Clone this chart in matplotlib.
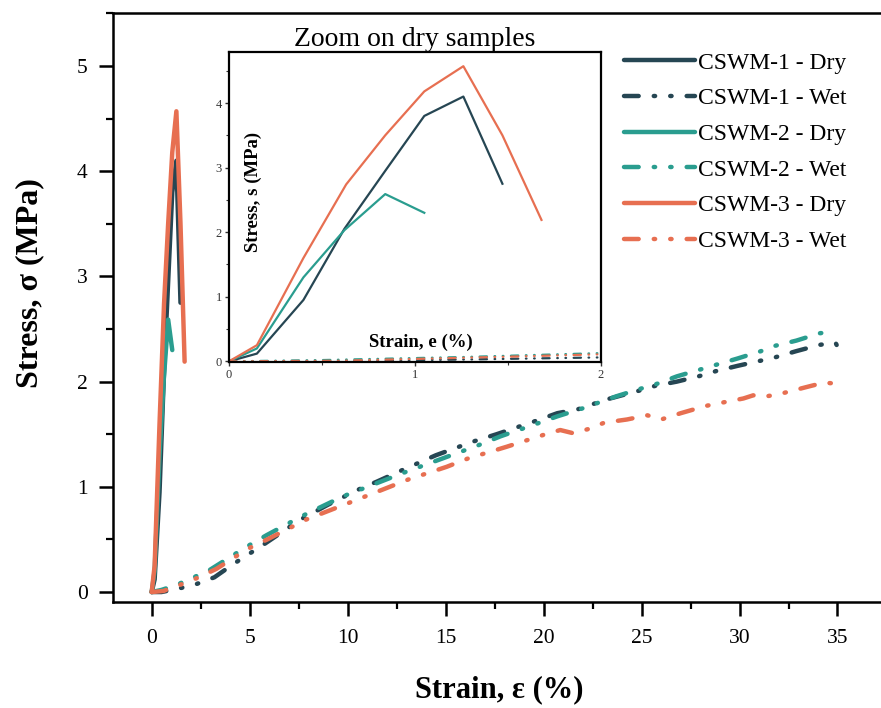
import matplotlib
matplotlib.use("Agg")
import matplotlib.pyplot as plt
from matplotlib.ticker import MultipleLocator

plt.rcParams['font.family'] = ['Liberation Serif', 'DejaVu Serif']

# ---- data ----
dry1_x = [0, 0.15, 0.40, 0.62, 0.84, 1.05, 1.26, 1.47]
dry1_y = [0, 0.12, 0.95, 2.05, 2.95, 3.80, 4.10, 2.75]
dry2_x = [0, 0.15, 0.40, 0.62, 0.84, 1.05]
dry2_y = [0, 0.20, 1.30, 2.03, 2.59, 2.30]
dry3_x = [0, 0.15, 0.40, 0.63, 0.84, 1.05, 1.26, 1.47, 1.68]
dry3_y = [0, 0.25, 1.60, 2.74, 3.50, 4.18, 4.57, 3.50, 2.19]

wet1_x = [0, 0.5, 1.3, 2.2, 3.2, 4.2, 5.7, 7.6, 9.0, 10.5, 11.5, 12.8, 14.5, 16.4, 17.6,
          19.5, 20.7, 21.8, 23.2, 24.8, 25.7, 26.8, 27.9, 28.8, 29.9, 31.1, 31.8, 32.9,
          34.1, 34.9, 35.3]
wet1_y = [0, 0.0, 0.03, 0.07, 0.14, 0.27, 0.45, 0.69, 0.83, 0.97, 1.05, 1.16, 1.30, 1.43, 1.50,
          1.62, 1.70, 1.74, 1.83, 1.91, 1.96, 2.00, 2.05, 2.10, 2.15, 2.20, 2.23, 2.29,
          2.35, 2.37, 2.22]
wet2_x = [0, 0.5, 1.26, 2.1, 2.96, 4.84, 5.86, 7.65, 9.77, 12.8, 14.7, 16.6, 17.8, 19.65,
          20.7, 21.9, 23.7, 24.9, 25.8, 26.8, 27.9, 28.8, 29.9, 31.1, 31.8, 32.9, 34.1, 34.9]
wet2_y = [0, 0.02, 0.067, 0.136, 0.21, 0.43, 0.54, 0.72, 0.91, 1.13, 1.26, 1.39, 1.48, 1.60,
          1.67, 1.74, 1.86, 1.93, 1.98, 2.05, 2.11, 2.16, 2.22, 2.29, 2.34, 2.39, 2.46, 2.48]
wet3_x = [0, 0.6, 1.43, 2.28, 3.3, 4.9, 5.9, 7.9, 10.1, 13.1, 15.05, 16.15, 18.1, 20.1, 20.85,
          21.5, 22.3, 23.1, 24.25, 25.3, 26.0, 27.0, 28.3, 29.1, 30.2, 30.7, 31.2, 32.0,
          33.45, 34.3, 35.07]
wet3_y = [0, 0.01, 0.067, 0.13, 0.22, 0.41, 0.50, 0.69, 0.85, 1.07, 1.19, 1.27, 1.38, 1.50, 1.54,
          1.51, 1.55, 1.61, 1.64, 1.68, 1.64, 1.70, 1.77, 1.80, 1.84, 1.87, 1.855, 1.88,
          1.95, 1.99, 1.98]

labels = ["CSWM-1 - Dry", "CSWM-1 - Wet", "CSWM-2 - Dry", "CSWM-2 - Wet",
          "CSWM-3 - Dry", "CSWM-3 - Wet"]
c_navy, c_teal, c_orange = "#264653", "#2a9d8f", "#e76f51"

series = [
    (dry1_x, dry1_y, c_navy, True),
    (wet1_x, wet1_y, c_navy, False),
    (dry2_x, dry2_y, c_teal, True),
    (wet2_x, wet2_y, c_teal, False),
    (dry3_x, dry3_y, c_orange, True),
    (wet3_x, wet3_y, c_orange, False),
]
dashdotdot = (0, (3.3, 3.4, 0.3, 3.4, 0.3, 3.4))

W, H = 881, 708
fig = plt.figure(figsize=(W / 100, H / 100), dpi=100)

# main axes (right spine runs off the picture)
L, R, T, B = 112.7, 890, 12.7, 601.5
ax = fig.add_axes([L / W, 1 - B / H, (R - L) / W, (B - T) / H])
handles = []
for (x, y, c, dry), lab in zip(series, labels):
    if dry:
        h, = ax.plot(x, y, color=c, lw=3.2, solid_capstyle='round',
                     solid_joinstyle='round', label=lab)
    else:
        h, = ax.plot(x, y, color=c, lw=3.2, linestyle=dashdotdot,
                     dash_capstyle='round', label=lab)
    handles.append(h)

ax.set_xlim(-1.99, 37.68)
ax.set_ylim(-0.09, 5.507)
ax.xaxis.set_major_locator(MultipleLocator(5))
ax.xaxis.set_minor_locator(MultipleLocator(2.5))
ax.yaxis.set_major_locator(MultipleLocator(1))
ax.yaxis.set_minor_locator(MultipleLocator(0.5))
ax.tick_params(which='major', direction='out', length=10, width=1.8, labelsize=15.5,
               pad=8, colors='black')
ax.tick_params(which='minor', direction='out', length=5, width=1.6)
ax.tick_params(axis='x', which='major', pad=10)
for s in ax.spines.values():
    s.set_linewidth(1.8)
ax.spines['right'].set_visible(False)

fig.text(30 / W, 1 - 283 / H, "Stress, σ (MPa)", rotation=90, ha='center', va='center',
         fontsize=23, fontweight='bold')
fig.text(499.5 / W, 1 - 690 / H, "Strain, ε (%)", ha='center', va='center',
         fontsize=22, fontweight='bold')

fig.legend(handles=handles, labels=labels, loc='upper left',
           bbox_to_anchor=(624 / W, 1 - 52 / H), frameon=False, fontsize=17,
           handlelength=3.0, handletextpad=0.15, labelspacing=0.6,
           borderpad=0, borderaxespad=0)

# inset
iL, iR, iT, iB = 229, 601, 52, 362
axi = fig.add_axes([iL / W, 1 - iB / H, (iR - iL) / W, (iB - iT) / H])
axi.set_facecolor('white')
for x, y, c, dry in series:
    if dry:
        axi.plot(x, y, color=c, lw=1.6)
    else:
        axi.plot(x, y, color=c, lw=1.6, linestyle=dashdotdot, dash_capstyle='round')
axi.set_xlim(0, 2)
axi.set_ylim(-0.01, 4.79)
axi.xaxis.set_major_locator(MultipleLocator(1))
axi.xaxis.set_minor_locator(MultipleLocator(0.5))
axi.yaxis.set_major_locator(MultipleLocator(1))
axi.yaxis.set_minor_locator(MultipleLocator(0.5))
axi.tick_params(which='major', direction='out', length=3, width=1.0, labelsize=9,
                pad=2, colors='#333333')
axi.tick_params(which='minor', direction='out', length=2, width=0.8, colors='#333333')
for s in axi.spines.values():
    s.set_linewidth(1.6)
axi.set_title("Zoom on dry samples", fontsize=20, pad=2)
axi.text(0.065, 0.55, "Stress, s (MPa)", transform=axi.transAxes, rotation=90,
         ha='center', va='center', fontsize=13.5, fontweight='bold')
axi.text(0.515, 0.065, "Strain, e (%)", transform=axi.transAxes,
         ha='center', va='center', fontsize=13.5, fontweight='bold')

fig.savefig("out.png", dpi=100)
